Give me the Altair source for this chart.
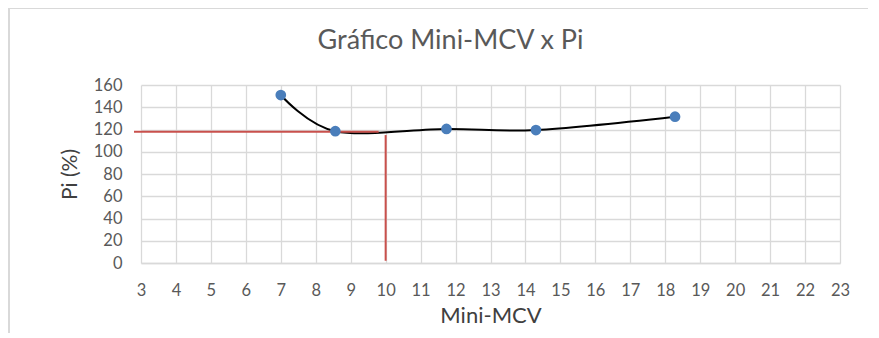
import altair as alt
import pandas as pd

# data
mini_mcv = [7.0, 8.56, 11.74, 14.30, 18.28]
pi_pct = [151, 118.5, 120.5, 119.5, 131.5]

# red reference lines (horizontal at Pi ~118 up to Mini-MCV 10, vertical at 10)
h_line_x = [2.8, 9.8]
h_line_y = [118, 118]
v_line_x = [10, 10]
v_line_y = [115, 2]

x_ticks = list(range(3, 24))
y_ticks = list(range(0, 161, 20))

FONT = "Lato"
GREY = "#595959"
GRID = "#d9d9d9"

pts = pd.DataFrame({"x": mini_mcv, "y": pi_pct})
hl = pd.DataFrame({"x": h_line_x, "y": h_line_y})
vl = pd.DataFrame({"x": v_line_x, "y": v_line_y})

xscale = alt.Scale(domain=[3, 23], nice=False, zero=False)
yscale = alt.Scale(domain=[0, 160], nice=False)

xaxis = alt.Axis(values=x_ticks, title="Mini-MCV", grid=True, gridColor=GRID, gridWidth=1.3,
                 domainColor=GRID, domainWidth=1.5, ticks=False, labelPadding=19,
                 labelOverlap=False, labelFlush=False, labelFontSize=16.5, labelColor=GREY,
                 labelFont=FONT, titleFont=FONT, titleFontSize=22, titleColor="#404040",
                 titleFontWeight="normal", titlePadding=7)
yaxis = alt.Axis(values=y_ticks, title="Pi (%)", grid=True, gridColor=GRID, gridWidth=1.3,
                 domain=False, ticks=False, labelPadding=19,
                 labelOverlap=False, labelFlush=False, labelFontSize=16.5, labelColor=GREY,
                 labelFont=FONT, titleFont=FONT, titleFontSize=21, titleColor="#404040",
                 titleFontWeight="normal", titlePadding=13)

X = alt.X("x:Q", scale=xscale, axis=xaxis)
Y = alt.Y("y:Q", scale=yscale, axis=yaxis)

hline = alt.Chart(hl).mark_line(color="#c9504c", strokeWidth=2, clip=False).encode(x=X, y=Y)
vline = alt.Chart(vl).mark_line(color="#c9504c", strokeWidth=2, clip=False).encode(x=X, y=Y)
curve = alt.Chart(pts).mark_line(color="black", strokeWidth=2, interpolate="cardinal").encode(x=X, y=Y)
dots = alt.Chart(pts).mark_circle(color="#4a7ebb", opacity=1, size=115).encode(x=X, y=Y)

# light chart-area frame (decorative)
frame_top = alt.Chart(pts).mark_rule(color=GRID, strokeWidth=2, clip=False).encode(
    x=alt.value(-133), x2=alt.value(740), y=alt.value(-77))
frame_left = alt.Chart(pts).mark_rule(color=GRID, strokeWidth=2, clip=False).encode(
    x=alt.value(-132), y=alt.value(-77), y2=alt.value(255))

chart = alt.layer(frame_top, frame_left, curve, hline, vline, dots).properties(
    width=699,
    height=178,
    autosize=alt.AutoSizeParams(type="none"),
    padding={"left": 133, "top": 77, "right": 28, "bottom": 70},
    title=alt.TitleParams("Gráfico Mini-MCV x Pi", font=FONT, fontSize=27, fontWeight="normal",
                          color=GREY, anchor="middle", dx=-40, offset=-69, baseline="alphabetic"),
).configure_view(stroke=None)

chart.save("out.html", embed_options={"renderer": "svg", "actions": False})
